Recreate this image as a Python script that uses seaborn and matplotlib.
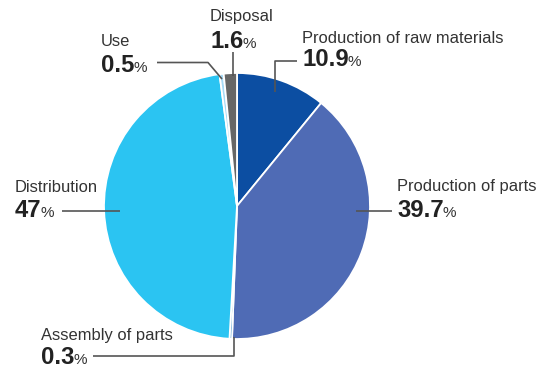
import matplotlib
matplotlib.use("Agg")
import matplotlib.pyplot as plt
import seaborn as sns

sns.set_theme(style="white")
plt.rcParams['font.family'] = ['Liberation Sans', 'DejaVu Sans']

categories = ["Production of raw materials", "Production of parts", "Assembly of parts",
              "Distribution", "Use", "Disposal"]
values = [10.9, 39.7, 0.3, 47, 0.5, 1.6]
value_labels = ["10.9", "39.7", "0.3", "47", "0.5", "1.6"]
colors = ["#0c4ea2", "#4f6bb5", "#2a86c4", "#2bc4f2", "#a6daf6", "#666666"]

W, H = 549, 368
fig = plt.figure(figsize=(W / 100, H / 100), dpi=100)

cx, cy, r = 237, 206, 133
ax = fig.add_axes([(cx - r) / W, (H - cy - r) / H, 2 * r / W, 2 * r / H])
ax.pie(values, colors=colors, startangle=90, counterclock=False,
       wedgeprops=dict(edgecolor="white", linewidth=1.3))
ax.set_xlim(-1, 1)
ax.set_ylim(-1, 1)
ax.set_aspect("equal")
ax.axis("off")

# overlay axes in pixel coordinates for labels
ov = fig.add_axes([0, 0, 1, 1], facecolor="none")
ov.set_xlim(0, W)
ov.set_ylim(H, 0)
ov.axis("off")

line_kw = dict(color="#555555", lw=1.2, solid_capstyle="butt")
leaders = [
    [(275, 92), (275, 60.5), (297, 60.5)],
    [(93, 356), (233.5, 356), (233.5, 337)],
    [(62, 210.5), (120, 210.5)],
    [(356, 210.5), (392, 210.5)],
    [(157, 62.5), (208, 62.5), (222, 79)],
    [(232.5, 52), (232.5, 76)],
]
for pts in leaders:
    xs, ys = zip(*pts)
    ov.plot(xs, ys, **line_kw)

# label positions: (x, label baseline, value baseline)
pos = [
    (302, 43, 66),
    (397, 191, 217),
    (41, 340, 364),
    (15, 192, 217),
    (101, 46, 72),
    (210, 21, 48),
]

fig.canvas.draw()
renderer = fig.canvas.get_renderer()
for cat, vl, (x, yl, yv) in zip(categories, value_labels, pos):
    ov.text(x, yl, cat, fontsize=11.9, color="#333333", va="baseline", ha="left")
    t = ov.text(x, yv, vl, fontsize=17.2, fontweight="bold", color="#222222",
                va="baseline", ha="left")
    bb = t.get_window_extent(renderer=renderer)
    x_end = ov.transData.inverted().transform((bb.x1, bb.y0))[0]
    ov.text(x_end - 1, yv, "%", fontsize=11, color="#333333", va="baseline", ha="left")

fig.savefig("out.png", dpi=100)
